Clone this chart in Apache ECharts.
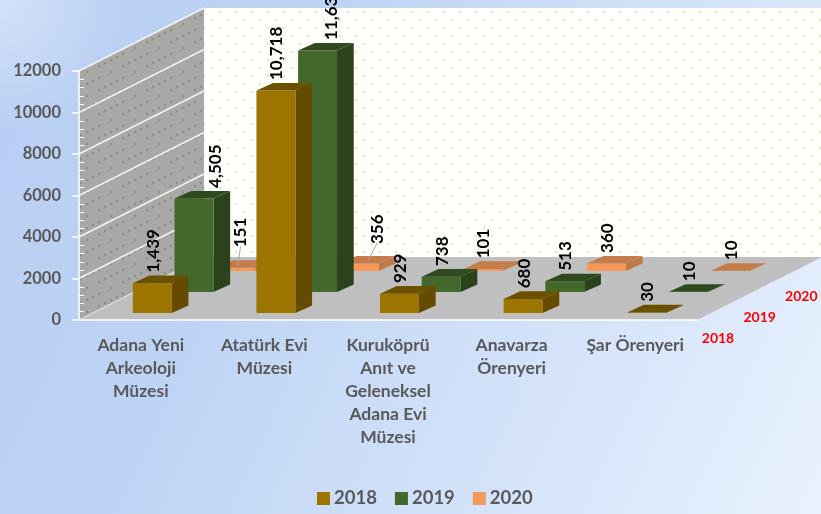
<!DOCTYPE html>
<html>
<head>
<meta charset="utf-8">
<title>Müze ziyaretçi sayıları</title>
<script src="https://cdn.jsdelivr.net/npm/echarts@6/dist/echarts.min.js"></script>
<style>
  html, body { margin: 0; padding: 0; }
  body {
    width: 821px; height: 514px; overflow: hidden;
    background: radial-gradient(circle at 0 0, #d3e2f9 0, rgba(211,226,249,0) 130px),
                linear-gradient(115deg, #b7cef3 0%, #bdd3f4 30%, #d5e4fa 70%, #e9f2fe 100%);
  }
  #chart { width: 821px; height: 514px; }
</style>
</head>
<body>
<div id="chart"></div>
<script>
var categories = ['Adana Yeni\nArkeoloji\nMüzesi', 'Atatürk Evi\nMüzesi', 'Kuruköprü\nAnıt ve\nGeleneksel\nAdana Evi\nMüzesi', 'Anavarza\nÖrenyeri', 'Şar Örenyeri'];
var years = ['2018', '2019', '2020'];
var values2018 = [1439, 10718, 929, 680, 30];
var values2019 = [4505, 11636, 738, 513, 10];
var values2020 = [151, 356, 101, 360, 10];
var yMax = 12000;
var yStep = 2000;

// yan yuz / ust yuz renkleri seriye gore
var faceColors = [
  { front: '#9c7500', side: '#644b00', top: '#6b5000' },
  { front: '#43682b', side: '#2b431c', top: '#2f4a1e' },
  { front: '#f4995a', side: '#c07a48', top: '#c47c4a' }
];

// 3B gorunum icin ekran kaymalari (px)
var depth = { x: 125, y: -63 };      // tum taban derinligi
var slot = { x: depth.x / 3, y: depth.y / 3 };
var barDepth = { x: 16.7, y: -7.6 };
var barShift = { x: 11.5, y: -7 };
var barRatio = 0.315;

// elle kaydirilan etiketler: seri-kategori
var labelNudge = {
  '1-0': { dx: 21, dy: 0 },
  '1-1': { dx: 13, dy: 0 },
  '2-0': { dx: 4, dy: -10, line: true },
  '2-1': { dx: 17, dy: -9, line: true }
};

function dotTile(w, h, points, dotColor, bg, r) {
  var c = document.createElement('canvas');
  c.width = w;
  c.height = h;
  var ctx = c.getContext('2d');
  ctx.fillStyle = bg;
  ctx.fillRect(0, 0, w, h);
  ctx.fillStyle = dotColor;
  points.forEach(function (p) {
    ctx.beginPath();
    ctx.arc(p[0], p[1], r, 0, Math.PI * 2);
    ctx.fill();
  });
  return c;
}

var backTile = dotTile(16, 16, [[4, 4], [12, 12]], '#dfe7c6', '#fffffc', 1.2);
var leftTile = dotTile(24, 24, [[3, 6], [9, 15], [15, 0], [15, 24], [21, 9], [3, 18], [15, 12]], '#8c8f86', '#a8a8a6', 1.2);

function renderWalls(params, api) {
  var cs = params.coordSys;
  var left = cs.x;
  var right = cs.x + cs.width;
  var floorY = api.coord([0, 0])[1];
  var topY = api.coord([0, yMax])[1];
  var children = [];

  children.push({
    type: 'rect',
    shape: { x: left + depth.x, y: topY + depth.y, width: 821, height: cs.height },
    style: { fill: { image: backTile, repeat: 'repeat' } }
  });
  children.push({
    type: 'polygon',
    shape: { points: [[left, floorY], [left, topY], [left + depth.x, topY + depth.y], [left + depth.x, floorY + depth.y]] },
    style: { fill: { image: leftTile, repeat: 'repeat' } }
  });
  children.push({
    type: 'polygon',
    shape: { points: [[left, floorY], [right, floorY], [right + depth.x, floorY + depth.y], [left + depth.x, floorY + depth.y]] },
    style: { fill: '#bfbfbf' }
  });

  for (var v = yStep; v <= yMax; v += yStep) {
    var y = api.coord([0, v])[1];
    children.push({
      type: 'line',
      shape: { x1: left, y1: y, x2: left + depth.x, y2: y + depth.y },
      style: { stroke: '#f2f2f2', lineWidth: 1.5 }
    });
  }
  children.push({
    type: 'line',
    shape: { x1: left, y1: floorY, x2: left + depth.x, y2: floorY + depth.y },
    style: { stroke: '#e6e6e6', lineWidth: 1 }
  });

  years.forEach(function (year, i) {
    children.push({
      type: 'text',
      style: {
        text: year,
        x: right + 21 + slot.x * i,
        y: floorY + 18 + slot.y * i,
        align: 'center',
        verticalAlign: 'middle',
        fill: '#ff0000',
        font: 'bold 14px Lato'
      }
    });
  });

  return { type: 'group', children: children };
}

function makeBarRenderer(seriesIndex) {
  return function (params, api) {
    var cat = api.value(0);
    var val = api.value(1);
    var base = api.coord([cat, 0]);
    var tip = api.coord([cat, val]);
    var w = api.size([1, 0])[0] * barRatio;
    var cx = base[0] + barShift.x + slot.x * seriesIndex;
    var yBase = base[1] + barShift.y + slot.y * seriesIndex;
    var yTop = yBase - (base[1] - tip[1]);
    var x0 = cx - w / 2;
    var x1 = cx + w / 2;
    var c = faceColors[seriesIndex];
    var children = [
      {
        type: 'polygon',
        shape: { points: [[x1, yBase], [x1 + barDepth.x, yBase + barDepth.y], [x1 + barDepth.x, yTop + barDepth.y], [x1, yTop]] },
        style: { fill: c.side }
      },
      {
        type: 'rect',
        shape: { x: x0, y: yTop, width: w, height: yBase - yTop },
        style: { fill: c.front }
      },
      {
        type: 'polygon',
        shape: { points: [[x0, yTop], [x1, yTop], [x1 + barDepth.x, yTop + barDepth.y], [x0 + barDepth.x, yTop + barDepth.y]] },
        style: { fill: c.top }
      }
    ];

    var nudge = labelNudge[seriesIndex + '-' + cat] || { dx: 0, dy: 0 };
    var labelX = cx + 1 + nudge.dx;
    var labelY = yTop + barDepth.y - 3 + nudge.dy;
    if (nudge.line) {
      children.push({
        type: 'line',
        shape: { x1: cx + 0.5 * nudge.dx, y1: yTop + barDepth.y / 2 + 1, x2: labelX, y2: labelY - 1 },
        style: { stroke: '#a6a6a6', lineWidth: 1 }
      });
    }
    children.push({
      type: 'text',
      x: labelX,
      y: labelY,
      rotation: Math.PI / 2,
      style: {
        text: val.toLocaleString('en-US'),
        align: 'left',
        verticalAlign: 'middle',
        fill: '#000000',
        font: 'bold 17px Lato'
      }
    });
    return { type: 'group', children: children };
  };
}

function barSeries(seriesIndex, values) {
  return {
    type: 'custom',
    name: years[seriesIndex],
    z: 5 - seriesIndex,
    itemStyle: { color: faceColors[seriesIndex].front },
    encode: { x: 0, y: 1 },
    data: values.map(function (v, i) { return [i, v]; }),
    renderItem: makeBarRenderer(seriesIndex)
  };
}

var chart = echarts.init(document.getElementById('chart'), null, { renderer: 'canvas' });

chart.setOption({
  backgroundColor: 'transparent',
  animation: false,
  grid: { left: 79, top: 71, width: 618, height: 249 },
  legend: {
    data: years,
    left: 312,
    top: 484,
    icon: 'rect',
    itemWidth: 13,
    itemHeight: 13,
    itemGap: 18,
    textStyle: { color: '#595959', fontFamily: 'Lato', fontWeight: 'bold', fontSize: 18.5, padding: [0, 0, 0, -1] }
  },
  xAxis: {
    type: 'category',
    data: categories,
    z: 8,
    axisLine: { show: true, lineStyle: { color: '#ffffff', width: 1.5 } },
    axisTick: { show: false },
    axisLabel: {
      interval: 0,
      margin: 14,
      color: '#595959',
      fontFamily: 'Lato',
      fontWeight: 'bold',
      fontSize: 17.5,
      lineHeight: 23,
      align: 'center'
    }
  },
  yAxis: [
    {
      type: 'value',
      min: 0,
      max: yMax,
      interval: yStep,
      z: 8,
      splitLine: { show: false },
      axisLine: { show: true, lineStyle: { color: '#ffffff', width: 1.5 } },
      axisTick: { show: true, length: 7, lineStyle: { color: '#ffffff', width: 1.5 } },
      axisLabel: {
        margin: 12,
        color: '#595959',
        fontFamily: 'Lato',
        fontWeight: 'bold',
        fontSize: 16.5,
        padding: [0, 6, 0, 0],
        formatter: function (v) { return String(v); }
      }
    },
    {
      type: 'value',
      position: 'left',
      min: 0,
      max: yMax,
      interval: yStep,
      z: 8,
      splitLine: { show: false },
      axisLine: { show: false },
      axisLabel: { show: false },
      axisTick: { show: false, inside: true },
      minorTick: { show: true, splitNumber: 5, length: 5, lineStyle: { color: '#ffffff', width: 1 } }
    }
  ],
  series: [
    {
      type: 'custom',
      name: 'zemin',
      z: 1,
      silent: true,
      data: [[0, 0]],
      encode: { x: 0, y: 1 },
      renderItem: renderWalls
    },
    barSeries(2, values2020),
    barSeries(1, values2019),
    barSeries(0, values2018)
  ]
});
</script>
</body>
</html>
